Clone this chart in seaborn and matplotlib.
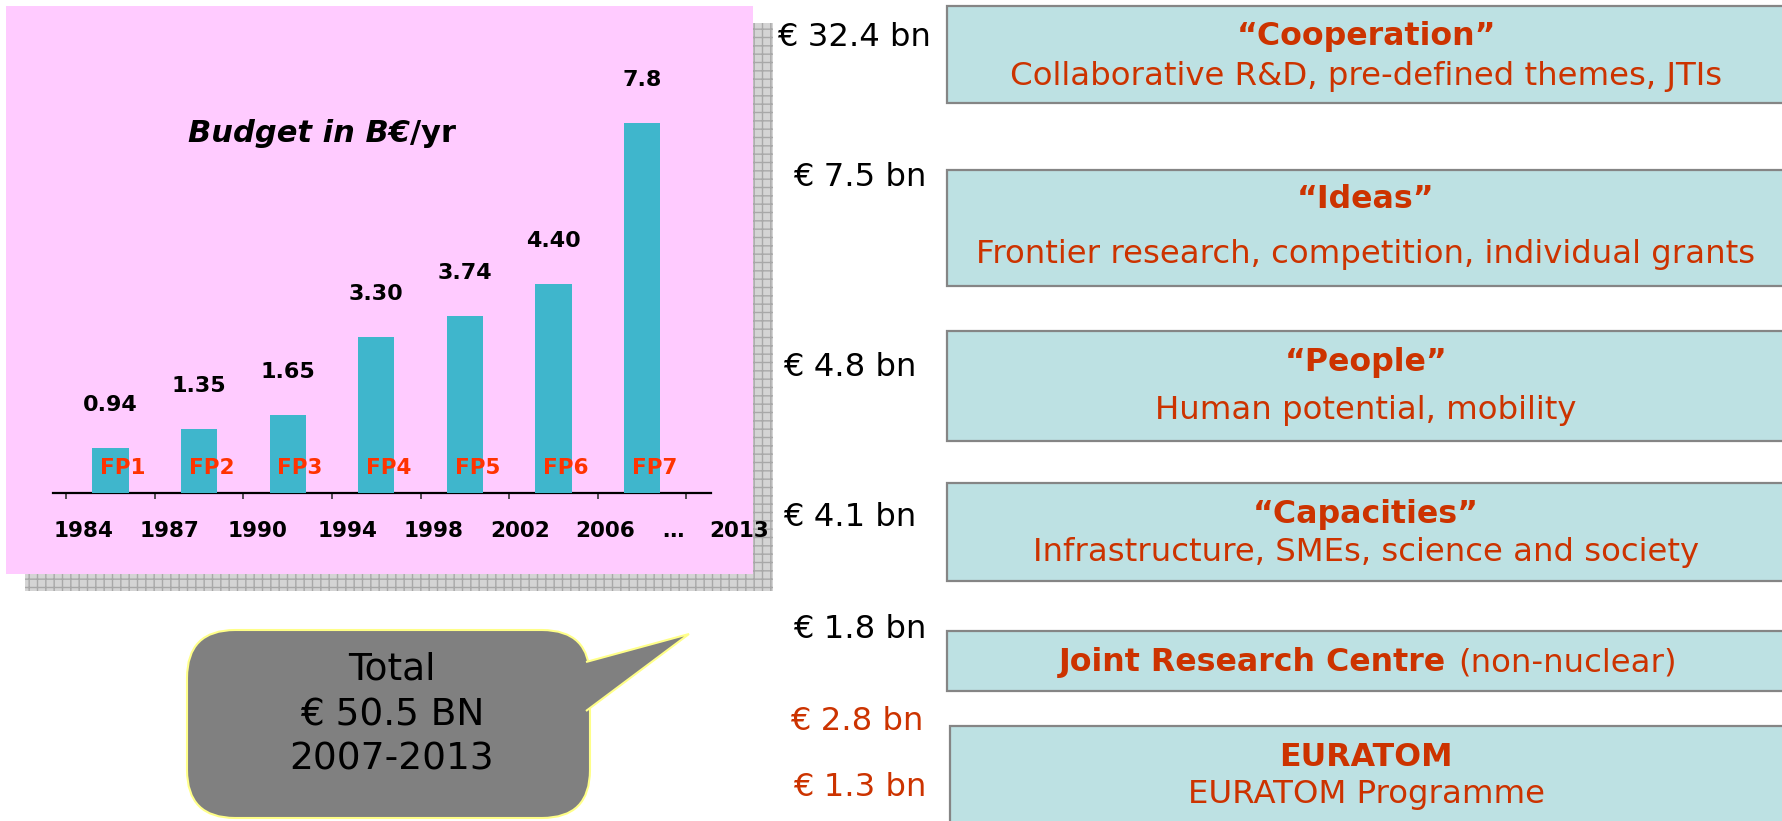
#!/usr/bin/env python3
"""
FP budget history + FP7 breakdown slide, redrawn with seaborn/matplotlib
"""

import numpy as np
import pandas as pd
import matplotlib
matplotlib.use('Agg')
import matplotlib.pyplot as plt
from matplotlib.patches import Rectangle, FancyBboxPatch, Polygon
import seaborn as sns

# Budget per framework programme, B€/yr
programmes = ['FP1', 'FP2', 'FP3', 'FP4', 'FP5', 'FP6', 'FP7']
budgets = [0.94, 1.35, 1.65, 3.30, 3.74, 4.40, 7.8]
budget_labels = ['0.94', '1.35', '1.65', '3.30', '3.74', '4.40', '7.8']
year_labels = ['1984', '1987', '1990', '1994', '1998', '2002', '2006', '…', '2013']

# FP7 breakdown
block_amounts = ['€ 32.4 bn', '€ 7.5 bn', '€ 4.8 bn', '€ 4.1 bn', '€ 1.8 bn']
block_titles = ['“Cooperation”', '“Ideas”', '“People”', '“Capacities”']
block_texts = ['Collaborative R&D, pre-defined themes, JTIs',
               'Frontier research, competition, individual grants',
               'Human potential, mobility',
               'Infrastructure, SMEs, science and society']
jrc_title = 'Joint Research Centre'
jrc_text = '(non-nuclear)'
euratom_amounts = ['€ 2.8 bn', '€ 1.3 bn']
euratom_title = 'EURATOM'
euratom_text = 'EURATOM Programme'
total_lines = ['Total', '€ 50.5 BN', '2007-2013']

# colours
PINK = '#ffcbff'
BAR = '#3fb6cc'
BOX = '#bde1e3'
BOX_EDGE = '#858585'
RED = '#cc3300'
FP_RED = '#ff3300'

W, H = 1782, 821
fig = plt.figure(figsize=(W / 100, H / 100), dpi=100)
fig.patch.set_facecolor('white')

# background layer in pixel coordinates
bg = fig.add_axes([0, 0, 1, 1])
bg.set_xlim(0, W)
bg.set_ylim(H, 0)
bg.axis('off')

# shadow + pink panel
bg.add_patch(Rectangle((25, 23), 748, 568, facecolor='#d4d4d4', edgecolor='#a8a8a8',
                       hatch='++', linewidth=0, zorder=1))
bg.add_patch(Rectangle((6, 6), 747, 568, facecolor=PINK, edgecolor='none', zorder=2))

bg.text(410, 134, 'Budget in B€', ha='right', va='center', fontsize=22,
        fontweight='bold', fontstyle='italic', color='black', zorder=5)
bg.text(410, 134, '/yr', ha='left', va='center', fontsize=22,
        fontweight='bold', color='black', zorder=5)

# speech bubble
bg.add_patch(FancyBboxPatch((187, 630), 403, 188, boxstyle='round,pad=0,rounding_size=48',
                            facecolor='#808080', edgecolor='#ffff88', linewidth=1.5, zorder=3))
bg.add_patch(Polygon([(586, 662), (689, 634), (586, 711)], closed=False,
                     facecolor='#808080', edgecolor='#ffff88', linewidth=1.5, zorder=4))
for txt, y in zip(total_lines, [670, 716, 759]):
    bg.text(392, y, txt, ha='center', va='center', fontsize=27, color='black', zorder=5)

# right column boxes
box_rows = [(6, 103), (170, 286), (331, 441), (483, 581), (631, 691)]
for top, bottom in box_rows:
    bg.add_patch(Rectangle((947, top), 900, bottom - top, facecolor=BOX,
                           edgecolor=BOX_EDGE, linewidth=1.6, zorder=2))
bg.add_patch(Rectangle((950, 726), 900, 150, facecolor=BOX,
                       edgecolor=BOX_EDGE, linewidth=1.6, zorder=2))

amount_pos = [(931, 37), (926, 177), (916, 368), (916, 517), (926, 630)]
for txt, (x, y) in zip(block_amounts, amount_pos):
    bg.text(x, y, txt, ha='right', va='center', fontsize=23.2, color='black', zorder=5)
for txt, (x, y) in zip(euratom_amounts, [(923, 722), (926, 788)]):
    bg.text(x, y, txt, ha='right', va='center', fontsize=23.2, color=RED, zorder=5)

title_y = [37, 200, 362, 515]
text_y = [77, 255, 410, 553]
for title, txt, ty, sy in zip(block_titles, block_texts, title_y, text_y):
    bg.text(1366, ty, title, ha='center', va='center', fontsize=22.8,
            fontweight='bold', color=RED, zorder=5)
    bg.text(1366, sy, txt, ha='center', va='center', fontsize=23.3, color=RED, zorder=5)

bg.text(1446, 663, jrc_title, ha='right', va='center', fontsize=22.8,
        fontweight='bold', color=RED, zorder=5)
bg.text(1458, 663, jrc_text, ha='left', va='center', fontsize=23.3, color=RED, zorder=5)
bg.text(1366, 757, euratom_title, ha='center', va='center', fontsize=22.8,
        fontweight='bold', color=RED, zorder=5)
bg.text(1366, 795, euratom_text, ha='center', va='center', fontsize=23.3, color=RED, zorder=5)

# bar chart axes, sits on top of the pink panel
ax = fig.add_axes([53 / W, (H - 493) / H, 658 / W, 474 / H])
ax.set_facecolor('none')

df = pd.DataFrame({'programme': programmes, 'budget': budgets})
sns.barplot(data=df, x='programme', y='budget', color=BAR, saturation=1,
            width=0.41, ax=ax, zorder=3)

ax.set_xlim(-0.65, 6.78)
ax.set_ylim(0, 10)
ax.set_xlabel('')
ax.set_ylabel('')
ax.set_yticks([])
ax.set_xticks(np.arange(-0.5, 7.0, 1.0))
ax.set_xticklabels([])
ax.tick_params(axis='x', direction='out', length=4, width=1.2, color='#333333')
for side in ['top', 'right', 'left']:
    ax.spines[side].set_visible(False)
ax.spines['bottom'].set_linewidth(1.6)
ax.spines['bottom'].set_color('black')

for i, (val, lab) in enumerate(zip(budgets, budget_labels)):
    ax.annotate(lab, (i, val), xytext=(0, 31), textcoords='offset points',
                ha='center', va='center', fontsize=16, fontweight='bold', color='black')
    ax.text(i + 0.14, 0.53, programmes[i], ha='center', va='center', fontsize=15.5,
            fontweight='bold', color=FP_RED, zorder=5)

year_x = [-0.30, 0.66, 1.66, 2.68, 3.65, 4.63, 5.59, 6.35, 7.10]
for x, lab in zip(year_x, year_labels):
    ax.text(x, -0.8, lab, ha='center', va='center', fontsize=15.5,
            fontweight='bold', color='black', clip_on=False)

plt.savefig('out.png', dpi=100)
